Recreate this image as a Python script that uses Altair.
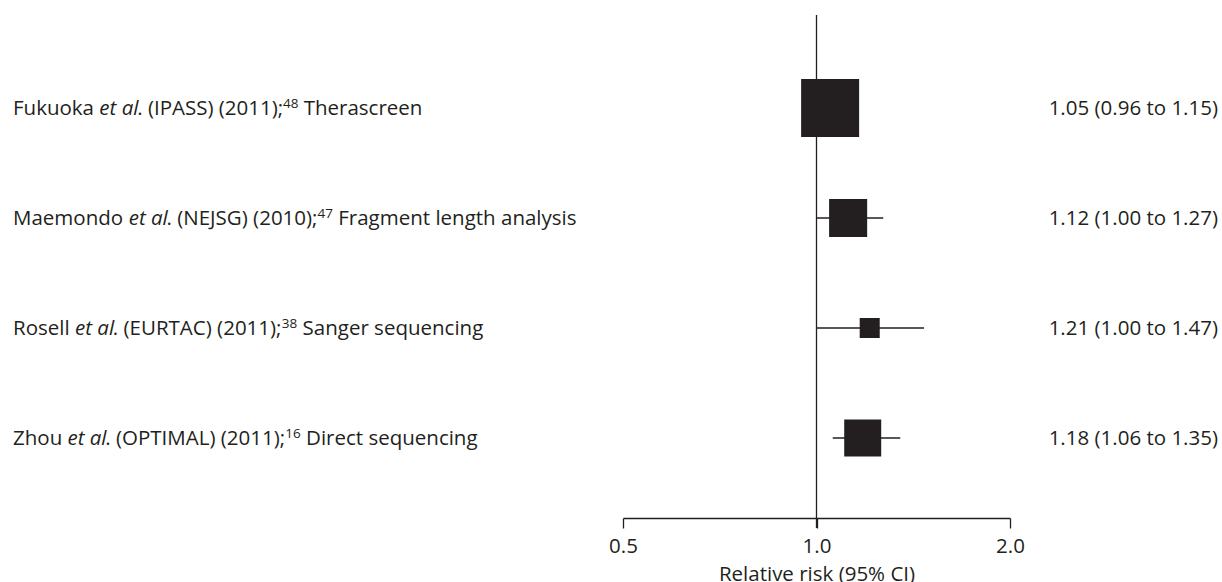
import altair as alt
import pandas as pd

# ---- data ----
authors = ["Fukuoka", "Maemondo", "Rosell", "Zhou"]
trials = ["IPASS", "NEJSG", "EURTAC", "OPTIMAL"]
years = ["2011", "2010", "2011", "2011"]
refs = ["48", "47", "38", "16"]
methods = ["Therascreen", "Fragment length analysis", "Sanger sequencing", "Direct sequencing"]
rr = [1.05, 1.12, 1.21, 1.18]
ci_low = [0.96, 1.00, 1.00, 1.06]
ci_high = [1.15, 1.27, 1.47, 1.35]
weights = [51.1, 22.0, 6.1, 20.8]
tick_values = [0.5, 1.0, 2.0]
null_value = [1.0]

INK = "#231f20"
FONT = "Open Sans"
FS = 20.5
SUP = 13.5

# approximate Open Sans advance widths (units per 2048 em)
W = {" ": 532, "(": 604, ")": 604, ".": 545, ";": 545, ",": 502, "%": 1696,
     "A": 1296, "C": 1292, "D": 1493, "E": 1139, "F": 1057, "G": 1491, "I": 571, "J": 547,
     "K": 1257, "L": 1063, "M": 1849, "N": 1544, "O": 1595, "P": 1233, "R": 1266, "S": 1104,
     "T": 1122, "U": 1511, "Z": 1155,
     "a": 1139, "b": 1255, "c": 975, "d": 1255, "e": 1149, "f": 694, "g": 1122, "h": 1257,
     "i": 518, "k": 1075, "l": 518, "m": 1905, "n": 1257, "o": 1237, "p": 1255, "q": 1255,
     "r": 836, "s": 977, "t": 723, "u": 1257, "v": 1026, "y": 1028}
for d in "0123456789":
    W[d] = 1171


def tw(s, size):
    return sum(W.get(c, 1150) for c in s) / 2048.0 * size


x0 = 13
seg_rows = []
for i, (a, t, yv, r, m) in enumerate(zip(authors, trials, years, refs, methods)):
    x = x0
    parts = [(a + " ", "normal", FS), ("et al", "italic", FS),
             (f". ({t}) ({yv});", "normal", FS), (r, "sup", SUP), (" " + m, "normal", FS)]
    for txt, style, size in parts:
        lead = len(txt) - len(txt.lstrip(" "))
        seg_rows.append({"row": i, "text": txt.strip(" "), "style": style,
                         "px": x + tw(" " * lead, size)})
        w = tw(txt, size)
        if style == "italic":
            w *= 0.93
        x += w
segs = pd.DataFrame(seg_rows)

df = pd.DataFrame({"row": list(range(len(authors))), "study": authors,
                   "rr": rr, "lo": ci_low, "hi": ci_high, "w": weights})
df["label"] = [f"{r:.2f} ({l:.2f} to {h:.2f})" for r, l, h in zip(rr, ci_low, ci_high)]

xscale = alt.Scale(type="log", domain=[0.5, 2.0], range=[623, 1010], nice=False)
yscale = alt.Scale(domain=[0, len(authors) - 1], range=[108, 438], nice=False, zero=False)
Y = alt.Y("row:Q", scale=yscale, axis=None)

axis = alt.Axis(values=tick_values, format=".1f", title="Relative risk (95% CI)", grid=False,
                tickSize=10, tickWidth=1.3, domainWidth=1.3, domainColor=INK, tickColor=INK,
                labelColor=INK, titleColor=INK, labelFont=FONT, titleFont=FONT,
                labelFontSize=FS, titleFontSize=FS, titleFontWeight="normal",
                labelPadding=8, titlePadding=8, labelFlush=False)

vline = alt.Chart(pd.DataFrame({"x": null_value})).mark_rule(color=INK, strokeWidth=1.3).encode(
    x=alt.X("x:Q", scale=xscale, axis=axis),
    y=alt.value(15), y2=alt.value(528))

ci = alt.Chart(df).mark_rule(color=INK, strokeWidth=1.3).encode(
    x=alt.X("lo:Q", scale=xscale), x2="hi:Q", y=Y)

sq = alt.Chart(df).mark_square(color=INK, opacity=1, filled=True).encode(
    x=alt.X("rr:Q", scale=xscale), y=Y,
    size=alt.Size("w:Q", scale=alt.Scale(domain=[0, 51.1], range=[0, 3364]), legend=None))

vals = alt.Chart(df).mark_text(font=FONT, fontSize=FS, color=INK, align="right",
                               baseline="alphabetic", dy=7).encode(
    x=alt.value(1218), y=Y, text="label:N")

txt_norm = alt.Chart(segs).transform_filter(alt.datum.style == "normal").mark_text(
    font=FONT, fontSize=FS, color=INK, align="left", baseline="alphabetic", dy=7).encode(
    x=alt.X("px:Q", scale=None), y=Y, text="text:N")

txt_it = alt.Chart(segs).transform_filter(alt.datum.style == "italic").mark_text(
    font=FONT, fontSize=FS, fontStyle="italic", color=INK, align="left",
    baseline="alphabetic", dy=7).encode(
    x=alt.X("px:Q", scale=None), y=Y, text="text:N")

txt_sup = alt.Chart(segs).transform_filter(alt.datum.style == "sup").mark_text(
    font=FONT, fontSize=SUP, color=INK, align="left", baseline="alphabetic", dy=0).encode(
    x=alt.X("px:Q", scale=None), y=Y, text="text:N")

chart = alt.layer(vline, ci, sq, vals, txt_norm, txt_it, txt_sup).properties(
    width=1222, height=518,
    autosize=alt.AutoSizeParams(type="none"),
    padding={"left": 0, "top": 0, "right": 0, "bottom": 64},
).configure(background="white").configure_view(strokeWidth=0)

chart.save("out.html", embed_options={"renderer": "svg", "actions": False})
